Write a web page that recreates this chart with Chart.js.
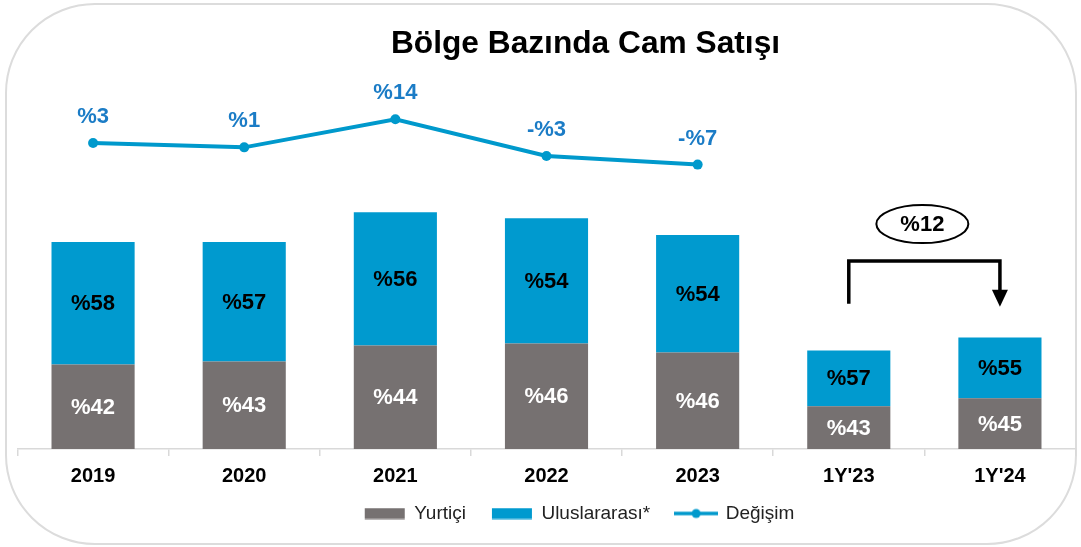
<!DOCTYPE html>
<html lang="tr">
<head>
<meta charset="utf-8">
<title>Bölge Bazında Cam Satışı</title>
<script src="https://cdn.jsdelivr.net/npm/chart.js@4.4.1/dist/chart.umd.min.js"></script>
<style>
  html, body { margin: 0; padding: 0; background: #fff; overflow: hidden; }
  #wrap { position: relative; width: 1081px; height: 547px; }
  #card { position: absolute; left: 5px; top: 3px; width: 1068px; height: 538px; border: 2px solid #dcdcdc; border-radius: 90px; }
  #grafik { position: absolute; left: 0; top: 0; }
</style>
</head>
<body>
<div id="wrap">
  <div id="card"></div>
  <canvas id="grafik" width="1081" height="547"></canvas>
</div>
<script>
// veriler
const kategoriler = ['2019', '2020', '2021', '2022', '2023', "1Y'23", "1Y'24"];
const yurtici = [85, 88, 104, 106, 97, 43, 51];
const uluslararasi = [123, 120, 134, 126, 118, 56, 61];
const yurticiPay = [42, 43, 44, 46, 46, 43, 45];
const uluslararasiPay = [58, 57, 56, 54, 54, 57, 55];
const degisim = [3, 1, 14, -3, -7, null, null];
const yillikArtis = 12; // 1Y'23 -> 1Y'24

// ok ve oval konumu (y ekseni biriminde)
const okUst = 189;
const okSolAlt = 146;
const okUc = 143;
const ovalY = 226;

const yaziTipi = "'Liberation Sans', Arial, sans-serif";
Chart.defaults.font.family = yaziTipi;

const gri = '#767171';
const mavi = '#009ACF';
const cizgiMavi = '#0099CC';
const etiketMavi = '#1B7CC6';

// lejant simgeleri
function simge(tur) {
  const c = document.createElement('canvas');
  c.width = 44; c.height = 12;
  const g = c.getContext('2d');
  if (tur === 'cizgi') {
    g.strokeStyle = cizgiMavi; g.fillStyle = cizgiMavi; g.lineWidth = 3.5;
    g.beginPath(); g.moveTo(0, 6); g.lineTo(44, 6); g.stroke();
    g.beginPath(); g.arc(22, 6, 4.5, 0, Math.PI * 2); g.fill();
  } else {
    g.fillStyle = tur;
    g.fillRect(2, 0.5, 40, 11);
  }
  return c;
}
const lejantSimgeleri = [simge(gri), simge(mavi), simge('cizgi')];

// çubuk ve çizgi etiketleri
const etiketler = {
  id: 'etiketler',
  afterDatasetsDraw(chart) {
    const ctx = chart.ctx;
    ctx.save();
    ctx.font = 'bold 22px ' + yaziTipi;
    ctx.textAlign = 'center';
    ctx.textBaseline = 'middle';
    const paylar = [yurticiPay, uluslararasiPay];
    const renkler = ['#ffffff', '#000000'];
    [0, 1].forEach(d => {
      chart.getDatasetMeta(d).data.forEach((bar, i) => {
        ctx.fillStyle = renkler[d];
        ctx.fillText('%' + paylar[d][i], bar.x, (bar.y + bar.base) / 2 + 1);
      });
    });
    ctx.fillStyle = etiketMavi;
    chart.getDatasetMeta(2).data.forEach((pt, i) => {
      const v = degisim[i];
      if (v === null) return;
      ctx.fillText((v < 0 ? '-%' : '%') + Math.abs(v), pt.x, pt.y - 26);
    });
    ctx.restore();
  }
};

// 1Y'23 -> 1Y'24 artış oku
const artisOku = {
  id: 'artisOku',
  afterDraw(chart) {
    const { ctx, scales: { x, y } } = chart;
    const x1 = x.getPixelForValue(5);
    const x2 = x.getPixelForValue(6);
    const yUst = y.getPixelForValue(okUst);
    const yUc = y.getPixelForValue(okUc);
    ctx.save();
    ctx.strokeStyle = '#000';
    ctx.fillStyle = '#000';
    ctx.lineWidth = 3.5;
    ctx.beginPath();
    ctx.moveTo(x1, y.getPixelForValue(okSolAlt));
    ctx.lineTo(x1, yUst);
    ctx.lineTo(x2, yUst);
    ctx.lineTo(x2, yUc - 14);
    ctx.stroke();
    ctx.beginPath();
    ctx.moveTo(x2 - 8, yUc - 17);
    ctx.lineTo(x2 + 8, yUc - 17);
    ctx.lineTo(x2, yUc);
    ctx.closePath();
    ctx.fill();

    const cx = (x1 + x2) / 2 - 2;
    const cy = y.getPixelForValue(ovalY);
    ctx.beginPath();
    ctx.ellipse(cx, cy, 46, 19, 0, 0, Math.PI * 2);
    ctx.fillStyle = '#fff';
    ctx.fill();
    ctx.lineWidth = 2;
    ctx.stroke();
    ctx.fillStyle = '#000';
    ctx.font = 'bold 22px ' + yaziTipi;
    ctx.textAlign = 'center';
    ctx.textBaseline = 'middle';
    ctx.fillText('%' + yillikArtis, cx, cy + 1);
    ctx.restore();
  }
};

// başlık ve lejantı kaydır
const ortala = {
  id: 'ortala',
  afterLayout(chart) {
    const t = chart.titleBlock;
    t.left += 39; t.right += 39;
    const l = chart.legend;
    l.left += 33; l.right += 33;
    l.top -= 11; l.bottom -= 11;
  }
};

const data = {
  labels: kategoriler,
  datasets: [
    {
      type: 'bar',
      label: 'Yurtiçi',
      data: yurtici,
      backgroundColor: gri,
      borderWidth: 0,
      yAxisID: 'y'
    },
    {
      type: 'bar',
      label: 'Uluslararası*',
      data: uluslararasi,
      backgroundColor: mavi,
      borderWidth: 0,
      yAxisID: 'y'
    },
    {
      type: 'line',
      label: 'Değişim',
      data: degisim,
      borderColor: cizgiMavi,
      backgroundColor: cizgiMavi,
      borderWidth: 4,
      pointRadius: 5,
      pointBackgroundColor: cizgiMavi,
      pointBorderWidth: 0,
      tension: 0,
      yAxisID: 'y1'
    }
  ]
};

new Chart(document.getElementById('grafik'), {
  data,
  options: {
    responsive: false,
    animation: false,
    events: [],
    datasets: {
      bar: { categoryPercentage: 1, barPercentage: 0.55 }
    },
    layout: {
      autoPadding: false,
      padding: { top: 0, left: 17.5, right: 5.5, bottom: 3 }
    },
    scales: {
      x: {
        stacked: true,
        grid: {
          offset: true,
          drawOnChartArea: false,
          drawTicks: true,
          tickLength: 7,
          color: '#d9d9d9',
          lineWidth: 1.5
        },
        border: { display: true, color: '#d9d9d9', width: 1.5 },
        ticks: {
          color: '#000',
          padding: 8,
          font: { size: 20, weight: 'bold' }
        },
        afterFit(s) { s.height = 40; }
      },
      y: { stacked: true, display: false, min: 0, max: 370 },
      y1: { display: false, min: -138.7, max: 31.8 }
    },
    plugins: {
      tooltip: { enabled: false },
      title: {
        display: true,
        text: 'Bölge Bazında Cam Satışı',
        color: '#000',
        font: { size: 31.7, weight: 'bold' },
        padding: { top: 25, bottom: 17.8 }
      },
      legend: {
        position: 'bottom',
        labels: {
          usePointStyle: true,
          pointStyleWidth: 40,
          boxHeight: 11,
          padding: 26,
          color: '#222',
          font: { size: 19 },
          generateLabels(chart) {
            const items = Chart.defaults.plugins.legend.labels.generateLabels(chart);
            items.forEach((it, i) => { it.pointStyle = lejantSimgeleri[i]; });
            return items;
          }
        }
      }
    }
  },
  plugins: [etiketler, artisOku, ortala]
});
</script>
</body>
</html>
